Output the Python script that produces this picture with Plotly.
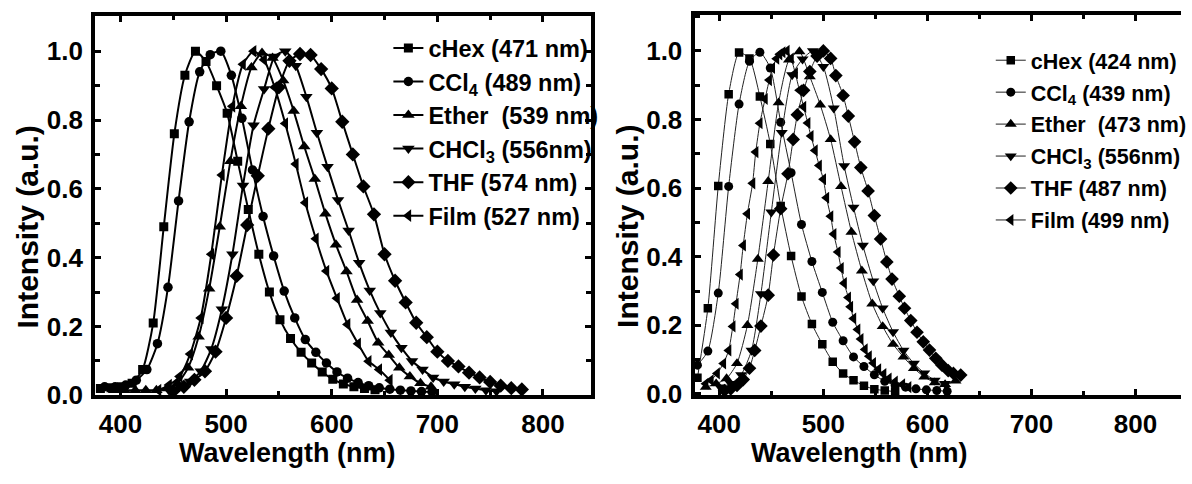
import plotly.graph_objects as go

W, H = 1192, 484
FONT = "Liberation Sans, Arial, sans-serif"

# ---------------- left panel: emission spectra ----------------
L_chex_x = [381, 391, 401, 411, 421, 431, 441, 451, 461, 471, 481, 491, 501, 511, 521, 531, 541, 551, 561, 571, 581, 591, 601, 611, 621, 631, 641]
L_chex_y = [0.02, 0.022, 0.025, 0.035, 0.075, 0.21, 0.49, 0.76, 0.93, 1.0, 0.97, 0.90, 0.82, 0.68, 0.54, 0.41, 0.30, 0.22, 0.165, 0.125, 0.094, 0.068, 0.047, 0.033, 0.025, 0.02, 0.016]

L_ccl4_x = [385, 395, 405, 415, 425, 435, 445, 455, 465, 475, 485, 495, 505, 515, 525, 535, 545, 555, 565, 575, 585, 595, 605, 615, 625, 635, 645, 655, 665, 675, 685, 695]
L_ccl4_y = [0.025, 0.025, 0.03, 0.044, 0.075, 0.15, 0.314, 0.565, 0.795, 0.94, 0.99, 1.0, 0.93, 0.805, 0.655, 0.52, 0.405, 0.303, 0.225, 0.162, 0.125, 0.094, 0.068, 0.05, 0.037, 0.028, 0.022, 0.018, 0.015, 0.013, 0.011, 0.01]

L_ether_x = [394, 404, 414, 424, 434, 444, 454, 464, 474, 484, 494, 504, 514, 524, 534, 544, 554, 564, 574, 584, 594, 604, 614, 624, 634, 644, 654, 664, 674, 684, 694]
L_ether_y = [0.015, 0.015, 0.015, 0.015, 0.015, 0.02, 0.035, 0.08, 0.17, 0.31, 0.49, 0.68, 0.84, 0.953, 0.995, 0.98, 0.915, 0.826, 0.723, 0.629, 0.528, 0.438, 0.36, 0.277, 0.216, 0.153, 0.117, 0.08, 0.055, 0.035, 0.025]

L_chcl3_x = [446, 456, 466, 476, 486, 496, 506, 516, 526, 536, 546, 556, 566, 576, 586, 596, 606, 616, 626, 636, 646, 656, 666, 676, 686, 696, 706, 716, 726, 736, 746, 756]
L_chcl3_y = [0.015, 0.025, 0.04, 0.07, 0.135, 0.25, 0.41, 0.61, 0.785, 0.89, 0.985, 1.0, 0.958, 0.868, 0.763, 0.664, 0.568, 0.479, 0.385, 0.305, 0.239, 0.183, 0.138, 0.10, 0.075, 0.052, 0.04, 0.032, 0.025, 0.02, 0.015, 0.012]

L_thf_x = [450, 460, 470, 480, 490, 500, 510, 520, 530, 540, 550, 560, 570, 580, 590, 600, 610, 620, 630, 640, 650, 660, 670, 680, 690, 700, 710, 720, 730, 740, 750, 760, 770, 780]
L_thf_y = [0.012, 0.025, 0.045, 0.07, 0.127, 0.225, 0.347, 0.495, 0.638, 0.775, 0.895, 0.972, 0.992, 0.989, 0.948, 0.892, 0.795, 0.70, 0.607, 0.526, 0.41, 0.333, 0.27, 0.211, 0.169, 0.127, 0.10, 0.084, 0.066, 0.052, 0.039, 0.028, 0.021, 0.017]

L_film_x = [436, 446, 456, 466, 476, 486, 496, 506, 516, 526, 536, 546, 556, 566, 575, 585, 595, 605, 615, 625, 635, 645, 655]
L_film_y = [0.015, 0.03, 0.055, 0.12, 0.225, 0.41, 0.64, 0.84, 0.962, 1.0, 0.975, 0.895, 0.79, 0.672, 0.56, 0.455, 0.361, 0.282, 0.206, 0.15, 0.099, 0.075, 0.044]

L_names = ["cHex (471 nm)", "CCl<sub>4</sub> (489 nm)", "Ether&nbsp; (539 nm)",
           "CHCl<sub>3</sub> (556nm)", "THF (574 nm)", "Film (527 nm)"]

# ---------------- right panel: emission spectra ----------------
R_chex_x = [379, 389, 399, 409, 419, 429, 439, 449, 459, 469, 479, 489, 499, 509, 519, 529, 539, 549, 559, 569]
R_chex_y = [0.047, 0.25, 0.606, 0.874, 0.995, 0.978, 0.867, 0.729, 0.548, 0.402, 0.284, 0.204, 0.145, 0.094, 0.06, 0.04, 0.024, 0.014, 0.01, 0.007]

R_ccl4_x = [379, 389, 399, 409, 419, 429, 439, 449, 459, 469, 479, 489, 499, 509, 519, 529, 539, 549, 559, 569, 579, 589, 599, 609, 619]
R_ccl4_y = [0.084, 0.125, 0.294, 0.605, 0.845, 0.97, 0.996, 0.95, 0.792, 0.645, 0.494, 0.386, 0.296, 0.209, 0.155, 0.108, 0.08, 0.056, 0.037, 0.025, 0.02, 0.015, 0.012, 0.01, 0.008]

R_ether_x = [387, 397, 407, 417, 427, 437, 447, 457, 467, 477, 487, 497, 507, 517, 527, 537, 547, 557, 567, 577, 587, 597, 607, 617, 627]
R_ether_y = [0.02, 0.03, 0.045, 0.089, 0.2, 0.393, 0.62, 0.849, 0.974, 0.998, 0.925, 0.843, 0.742, 0.605, 0.472, 0.359, 0.263, 0.197, 0.145, 0.108, 0.075, 0.05, 0.033, 0.028, 0.038]

R_chcl3_x = [401, 411, 421, 431, 440, 450, 460, 470, 480, 490, 500, 510, 520, 529, 538, 548, 557, 567, 577, 587, 597, 607, 617]
R_chcl3_y = [0.02, 0.03, 0.056, 0.127, 0.292, 0.53, 0.762, 0.93, 0.976, 1.0, 0.954, 0.833, 0.665, 0.544, 0.433, 0.329, 0.25, 0.181, 0.127, 0.089, 0.061, 0.04, 0.03]

R_thf_x = [405, 411, 417, 423, 429, 434, 440, 447, 452, 459, 466, 471, 475, 481, 487, 494, 500, 507, 512, 519, 524, 530, 536, 543, 549, 555, 561, 566, 573, 578, 584, 590, 596, 602, 608, 614, 620, 625, 632]
R_thf_y = [0.01, 0.015, 0.025, 0.042, 0.075, 0.127, 0.198, 0.288, 0.405, 0.54, 0.642, 0.742, 0.814, 0.885, 0.94, 0.985, 1.0, 0.978, 0.928, 0.87, 0.81, 0.735, 0.66, 0.592, 0.52, 0.452, 0.385, 0.335, 0.285, 0.25, 0.214, 0.18, 0.152, 0.128, 0.104, 0.084, 0.068, 0.06, 0.055]

R_film_x = [387, 392, 398, 404, 409, 413, 416, 420, 423, 427, 432, 435, 439, 444, 448, 451, 455, 458, 461, 465, 469, 473, 477, 481, 485, 488, 492, 496, 500, 503, 507, 510, 514, 517, 520, 524, 526, 529, 533, 536, 540, 544, 548, 553, 558, 563, 569, 576, 582]
R_film_y = [0.03, 0.04, 0.06, 0.089, 0.127, 0.197, 0.263, 0.348, 0.433, 0.525, 0.614, 0.705, 0.789, 0.86, 0.915, 0.95, 0.977, 0.99, 0.996, 1.0, 0.978, 0.935, 0.885, 0.837, 0.79, 0.752, 0.71, 0.666, 0.626, 0.572, 0.518, 0.466, 0.414, 0.367, 0.323, 0.281, 0.254, 0.22, 0.188, 0.16, 0.13, 0.11, 0.09, 0.072, 0.058, 0.045, 0.036, 0.028, 0.02]

R_names = ["cHex (424 nm)", "CCl<sub>4</sub> (439 nm)", "Ether&nbsp; (473 nm)",
           "CHCl<sub>3</sub> (556nm)", "THF (487 nm)", "Film (499 nm)"]

x_ticks = [400, 500, 600, 700, 800]
y_ticks = [0.0, 0.2, 0.4, 0.6, 0.8, 1.0]

symbols = ["square", "circle", "triangle-up", "triangle-down", "diamond", "triangle-left"]
msizes = [9, 9.5, 11, 11, 11, 11]

left_series = [(L_chex_x, L_chex_y), (L_ccl4_x, L_ccl4_y), (L_ether_x, L_ether_y),
               (L_chcl3_x, L_chcl3_y), (L_thf_x, L_thf_y), (L_film_x, L_film_y)]
right_series = [(R_chex_x, R_chex_y), (R_ccl4_x, R_ccl4_y), (R_ether_x, R_ether_y),
                (R_chcl3_x, R_chcl3_y), (R_thf_x, R_thf_y), (R_film_x, R_film_y)]

fig = go.Figure()

for i, ((xs, ys), name) in enumerate(zip(left_series, L_names)):
    fig.add_trace(go.Scatter(
        x=xs, y=ys, name=name, mode="lines+markers",
        line=dict(color="black", width=2, shape="spline", smoothing=0.6),
        marker=dict(symbol=symbols[i], size=msizes[i], color="black"),
        xaxis="x", yaxis="y", legend="legend", legendgroup=f"L{i}"))

for i, ((xs, ys), name) in enumerate(zip(right_series, R_names)):
    fig.add_trace(go.Scatter(
        x=xs, y=ys, name=name, mode="lines+markers",
        line=dict(color="#222222", width=1, shape="spline", smoothing=0.6),
        marker=dict(symbol=symbols[i], size=msizes[i] - 0.5, color="black"),
        xaxis="x2", yaxis="y2", legend="legend2", legendgroup=f"R{i}"))

tickfont = dict(family=FONT, size=26, color="black", weight="bold")


def xaxis_cfg(domain, rng, anchor):
    return dict(domain=domain, range=rng, anchor=anchor,
                showline=True, linewidth=4, linecolor="black", mirror="ticks",
                ticks="inside", ticklen=6, tickwidth=3, tickcolor="black",
                tickvals=x_ticks, ticktext=[str(v) for v in x_ticks],
                minor=dict(ticks="inside", ticklen=4, tickwidth=3, dtick=50, tick0=0, tickcolor="black"),
                showgrid=False, zeroline=False, tickfont=tickfont, ticklabelstandoff=2)


def yaxis_cfg(domain, rng, anchor, mirror):
    return dict(domain=domain, range=rng, anchor=anchor,
                showline=True, linewidth=4, linecolor="black", mirror=mirror,
                ticks="inside", ticklen=6, tickwidth=3, tickcolor="black",
                tickvals=y_ticks, ticktext=[f"{v:.1f}" for v in y_ticks],
                minor=dict(ticks="inside", ticklen=5, tickwidth=3, dtick=0.1, tick0=0, tickcolor="black"),
                showgrid=False, zeroline=False, tickfont=tickfont, ticklabelstandoff=3)


ytitle_font = dict(family=FONT, size=30, color="black", weight="bold")
xtitle_font = dict(family=FONT, size=27, color="black", weight="bold")

fig.update_layout(
    width=W, height=H,
    margin=dict(l=0, r=0, t=0, b=0),
    paper_bgcolor="white", plot_bgcolor="white",
    showlegend=True,
    xaxis=xaxis_cfg([96 / W, 596 / W], [376, 845], "y"),
    yaxis=yaxis_cfg([1 - 408 / H, 1 - 17 / H], [0.0, 1.101], "x", "ticks"),
    xaxis2=xaxis_cfg([701 / W, 1.0], [376.2, 843.7], "y2"),
    yaxis2=yaxis_cfg([1 - 408 / H, 1 - 15 / H], [-0.004, 1.106], "x2", False),
    legend=dict(x=392 / W, y=1 - 27 / H, xanchor="left", yanchor="top",
                font=dict(family=FONT, size=23.5, color="black", weight="bold"),
                bgcolor="rgba(0,0,0,0)", borderwidth=0,
                traceorder="grouped", tracegroupgap=0, itemwidth=30),
    legend2=dict(x=1000 / W, y=1 - 41 / H, xanchor="left", yanchor="top",
                 font=dict(family=FONT, size=21.5, color="black", weight="bold"),
                 bgcolor="rgba(0,0,0,0)", borderwidth=0,
                 traceorder="grouped", tracegroupgap=1, itemwidth=30),
    annotations=[
        dict(text="Intensity (a.u.)", x=28 / W, y=1 - 234 / H, xref="paper", yref="paper",
             textangle=-90, showarrow=False, xanchor="center", yanchor="middle",
             font=ytitle_font),
        dict(text="Intensity (a.u.)", x=634 / W, y=1 - 234 / H, xref="paper", yref="paper",
             textangle=-90, showarrow=False, xanchor="center", yanchor="middle",
             font=ytitle_font),
        dict(text="Wavelength (nm)", x=290 / W, y=1 - 468 / H, xref="paper", yref="paper",
             showarrow=False, xanchor="center", yanchor="middle",
             font=xtitle_font),
        dict(text="Wavelength (nm)", x=868 / W, y=1 - 468 / H, xref="paper", yref="paper",
             showarrow=False, xanchor="center", yanchor="middle",
             font=xtitle_font),
    ],
)

fig.write_html("out.html")
